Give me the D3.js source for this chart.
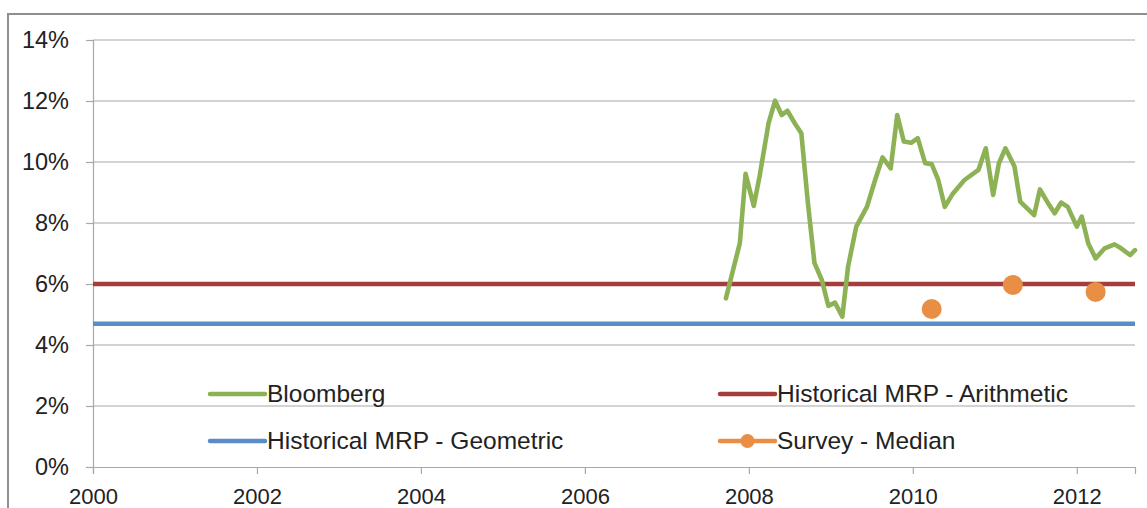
<!DOCTYPE html>
<html><head><meta charset="utf-8">
<script src="https://cdn.jsdelivr.net/npm/d3@7/dist/d3.min.js"></script>
<style>html,body{margin:0;padding:0;background:#fff;overflow:hidden}svg{display:block}</style>
</head><body>
<svg id="c" width="1147" height="508"></svg>
<script>
// Bloomberg implied MRP: [year (decimal), value %]
const bloombergYears = [2007.72,2007.89,2007.96,2008.06,2008.13,2008.24,2008.32,2008.40,2008.47,2008.56,2008.64,2008.72,2008.80,2008.89,2008.97,2009.05,2009.14,2009.21,2009.31,2009.44,2009.54,2009.63,2009.73,2009.81,2009.89,2009.98,2010.06,2010.15,2010.23,2010.31,2010.39,2010.49,2010.63,2010.80,2010.89,2010.98,2011.05,2011.13,2011.24,2011.31,2011.48,2011.55,2011.65,2011.73,2011.81,2011.89,2012.00,2012.06,2012.14,2012.23,2012.34,2012.46,2012.54,2012.65,2012.71];
const bloombergValues = [5.53,7.34,9.61,8.56,9.52,11.27,12.01,11.54,11.68,11.27,10.94,8.66,6.69,6.13,5.28,5.39,4.93,6.57,7.88,8.53,9.41,10.15,9.79,11.54,10.67,10.63,10.78,9.96,9.93,9.41,8.53,8.97,9.41,9.74,10.45,8.92,9.96,10.45,9.85,8.70,8.26,9.10,8.65,8.32,8.67,8.53,7.88,8.21,7.33,6.84,7.17,7.30,7.17,6.95,7.11];
const arithmeticMRP = 6.0;
const geometricMRP = 4.7;
const surveyYears = [2010.23, 2011.22, 2012.23];
const surveyValues = [5.18, 5.97, 5.74];
const yTicks = [0, 2, 4, 6, 8, 10, 12, 14];
const xTicks = [2000, 2002, 2004, 2006, 2008, 2010, 2012];
const legendItems = ["Bloomberg", "Historical MRP - Arithmetic", "Historical MRP - Geometric", "Survey - Median"];

const C = {green:"#8DB255", red:"#A43D3C", blue:"#5A8CC8", orange:"#E98F45", grid:"#A8A8A8", text:"#222"};
const FONT = "'Liberation Sans', Arial, sans-serif";

const svg = d3.select("#c");
const L = 93, R = 1135, T = 40, B = 467;
const x = d3.scaleLinear().domain([2000, 2012.71]).range([L, R]);
const y = d3.scaleLinear().domain([0, 14]).range([B, T]);

// outer frame
svg.append("rect").attr("x", 8).attr("y", 14).attr("width", 1160).attr("height", 520)
  .attr("fill", "none").attr("stroke", "#8f8f8f").attr("stroke-width", 2);

// gridlines
svg.append("g").selectAll("line").data(yTicks.filter(d => d > 0)).join("line")
  .attr("x1", L).attr("x2", R).attr("y1", d => y(d)).attr("y2", d => y(d))
  .attr("stroke", C.grid).attr("stroke-width", 1.2);

// y axis
const yAx = svg.append("g").attr("transform", `translate(${L},0)`)
  .call(d3.axisLeft(y).tickValues(yTicks).tickFormat(d => d + "%").tickSize(7).tickPadding(17));
yAx.select(".domain").attr("stroke", C.grid).attr("stroke-width", 1.2);
yAx.selectAll(".tick line").attr("stroke", C.grid).attr("stroke-width", 1.2);
yAx.selectAll("text").attr("font-family", FONT).attr("font-size", 23.5).attr("fill", C.text);

// x axis
const xAx = svg.append("g").attr("transform", `translate(0,${B})`)
  .call(d3.axisBottom(x).tickValues(xTicks).tickFormat(d3.format("d")).tickSize(7).tickPadding(14));
xAx.select(".domain").attr("stroke", C.grid).attr("stroke-width", 1.2);
xAx.selectAll(".tick line").attr("stroke", C.grid).attr("stroke-width", 1.2);
xAx.selectAll("text").attr("font-family", FONT).attr("font-size", 22).attr("fill", C.text);

// historical lines
svg.append("line").attr("x1", L).attr("x2", R).attr("y1", y(arithmeticMRP)).attr("y2", y(arithmeticMRP))
  .attr("stroke", C.red).attr("stroke-width", 4.5);
svg.append("line").attr("x1", L).attr("x2", R).attr("y1", y(geometricMRP)).attr("y2", y(geometricMRP))
  .attr("stroke", C.blue).attr("stroke-width", 4.5);

// bloomberg line
const bData = bloombergYears.map((t, i) => [t, bloombergValues[i]]);
svg.append("path").datum(bData)
  .attr("d", d3.line().x(d => x(d[0])).y(d => y(d[1])))
  .attr("fill", "none").attr("stroke", C.green).attr("stroke-width", 4.6)
  .attr("stroke-linejoin", "round").attr("stroke-linecap", "round");

// survey dots
svg.append("g").selectAll("circle").data(surveyYears.map((t, i) => [t, surveyValues[i]])).join("circle")
  .attr("cx", d => x(d[0])).attr("cy", d => y(d[1])).attr("r", 10).attr("fill", C.orange);

// legend
const leg = [
  {name: legendItems[0], color: C.green, x: 210, y: 394, dot: false},
  {name: legendItems[1], color: C.red, x: 720, y: 394, dot: false},
  {name: legendItems[2], color: C.blue, x: 210, y: 441, dot: false},
  {name: legendItems[3], color: C.orange, x: 720, y: 441, dot: true}
];
const lg = svg.append("g").selectAll("g").data(leg).join("g").attr("transform", d => `translate(${d.x},${d.y})`);
lg.append("line").attr("x1", 0).attr("x2", 55).attr("stroke", d => d.color).attr("stroke-width", 4.5).attr("stroke-linecap", "round");
lg.filter(d => d.dot).append("circle").attr("cx", 27.5).attr("r", 7).attr("fill", d => d.color);
lg.append("text").attr("x", 57).attr("y", 8).text(d => d.name)
  .attr("font-family", FONT).attr("font-size", 24.5).attr("fill", C.text);
</script>
</body></html>
